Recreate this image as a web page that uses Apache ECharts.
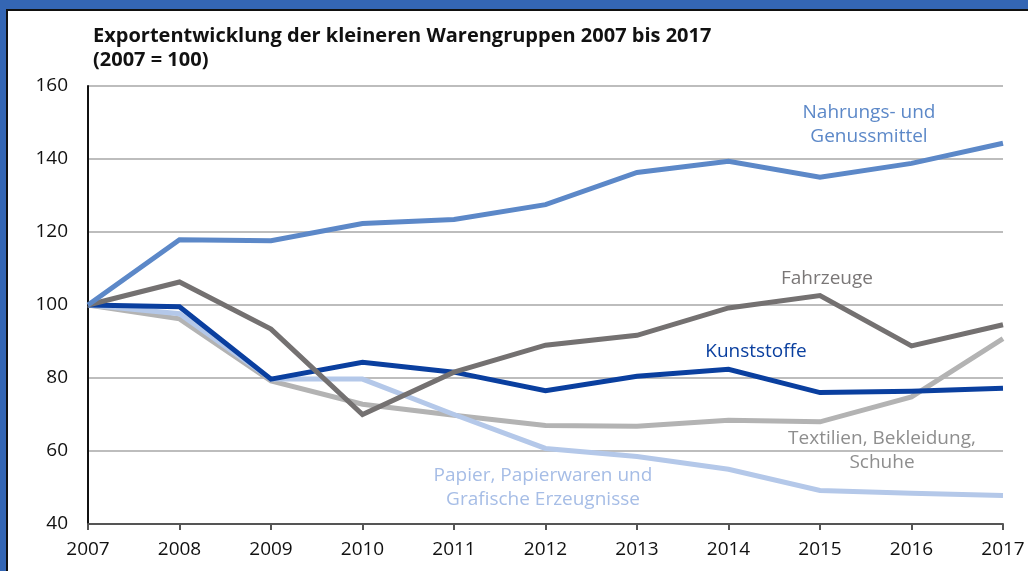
<!DOCTYPE html>
<html>
<head>
<meta charset="utf-8">
<script src="https://cdn.jsdelivr.net/npm/echarts@6/dist/echarts.min.js"></script>
<style>
  html, body { margin: 0; padding: 0; background: #3466b4; }
  #frame {
    position: absolute; left: 6px; top: 9px; width: 1022px; height: 562px;
    background: #fff; border-top: 2px solid #111; border-left: 2px solid #111;
  }
  #chart { width: 1022px; height: 562px; }
</style>
</head>
<body>
<div id="frame"><div id="chart"></div></div>
<script>
// Jahre
let years = ["2007", "2008", "2009", "2010", "2011", "2012", "2013", "2014", "2015", "2016", "2017"];
// Index 2007 = 100
let nahrung = [100, 117.9, 117.6, 122.3, 123.4, 127.5, 136.3, 139.4, 135.0, 138.8, 144.3];
let fahrzeuge = [100, 106.3, 93.4, 70.0, 81.6, 89.0, 91.7, 99.2, 102.6, 88.8, 94.6];
let kunststoffe = [100, 99.5, 79.7, 84.3, 81.6, 76.5, 80.5, 82.4, 76.0, 76.4, 77.2];
let textilien = [100, 96.2, 79.2, 72.8, 69.8, 67.0, 66.8, 68.4, 68.0, 74.8, 90.8];
let papier = [100, 97.6, 79.7, 79.7, 70.0, 60.7, 58.5, 55.0, 49.2, 48.4, 47.8];

let font = "'Open Sans', 'Noto Sans', sans-serif";

function line(name, data, color) {
  return {
    name: name,
    type: "line",
    data: data,
    symbol: "none",
    lineStyle: { color: color, width: 5, join: "miter" },
    itemStyle: { color: color },
    animation: false
  };
}

// Beschriftung an den Linien, zentriert um x/y
function label(text, x, y, color) {
  return {
    type: "text",
    x: x,
    y: y,
    style: {
      text: text,
      fill: color,
      font: "19px " + font,
      align: "center",
      verticalAlign: "middle",
      lineHeight: 24
    }
  };
}

let myChart = echarts.init(document.getElementById("chart"));
let opt = {
  animation: false,
  title: {
    text: "Exportentwicklung der kleineren Warengruppen 2007 bis 2017\n(2007 = 100)",
    left: 85,
    top: 13,
    padding: 0,
    textStyle: {
      color: "#111",
      fontFamily: font,
      fontSize: 20,
      fontWeight: "bold",
      lineHeight: 24
    }
  },
  grid: { left: 80, right: 27, top: 75, bottom: 49 },
  xAxis: {
    type: "category",
    data: years,
    boundaryGap: false,
    axisLine: { lineStyle: { color: "#555", width: 2 } },
    axisTick: { show: true, length: 6, lineStyle: { color: "#555", width: 2 } },
    axisLabel: { color: "#111", fontFamily: font, fontSize: 19, margin: 16 }
  },
  yAxis: {
    type: "value",
    min: 40,
    max: 160,
    interval: 20,
    axisLine: { show: true, lineStyle: { color: "#111", width: 2 } },
    axisTick: { show: false },
    axisLabel: { color: "#111", fontFamily: font, fontSize: 19, margin: 20 },
    splitLine: { lineStyle: { color: "#bdbdbd", width: 2 } }
  },
  graphic: [
    label("Nahrungs- und\nGenussmittel", 861, 114, "#5c88c8"),
    label("Fahrzeuge", 819, 268, "#7a7777"),
    label("Kunststoffe", 748, 341, "#0a3f9f"),
    label("Textilien, Bekleidung,\nSchuhe", 874, 440, "#8e8e8e"),
    label("Papier, Papierwaren und\nGrafische Erzeugnisse", 535, 477, "#a6bde6")
  ],
  series: [
    line("Textilien, Bekleidung, Schuhe", textilien, "#b3b3b3"),
    line("Papier, Papierwaren und Grafische Erzeugnisse", papier, "#b4c8e9"),
    line("Kunststoffe", kunststoffe, "#0a3f9f"),
    line("Fahrzeuge", fahrzeuge, "#747171"),
    line("Nahrungs- und Genussmittel", nahrung, "#5c88c8")
  ]
};
myChart.setOption(opt);
</script>
</body>
</html>
